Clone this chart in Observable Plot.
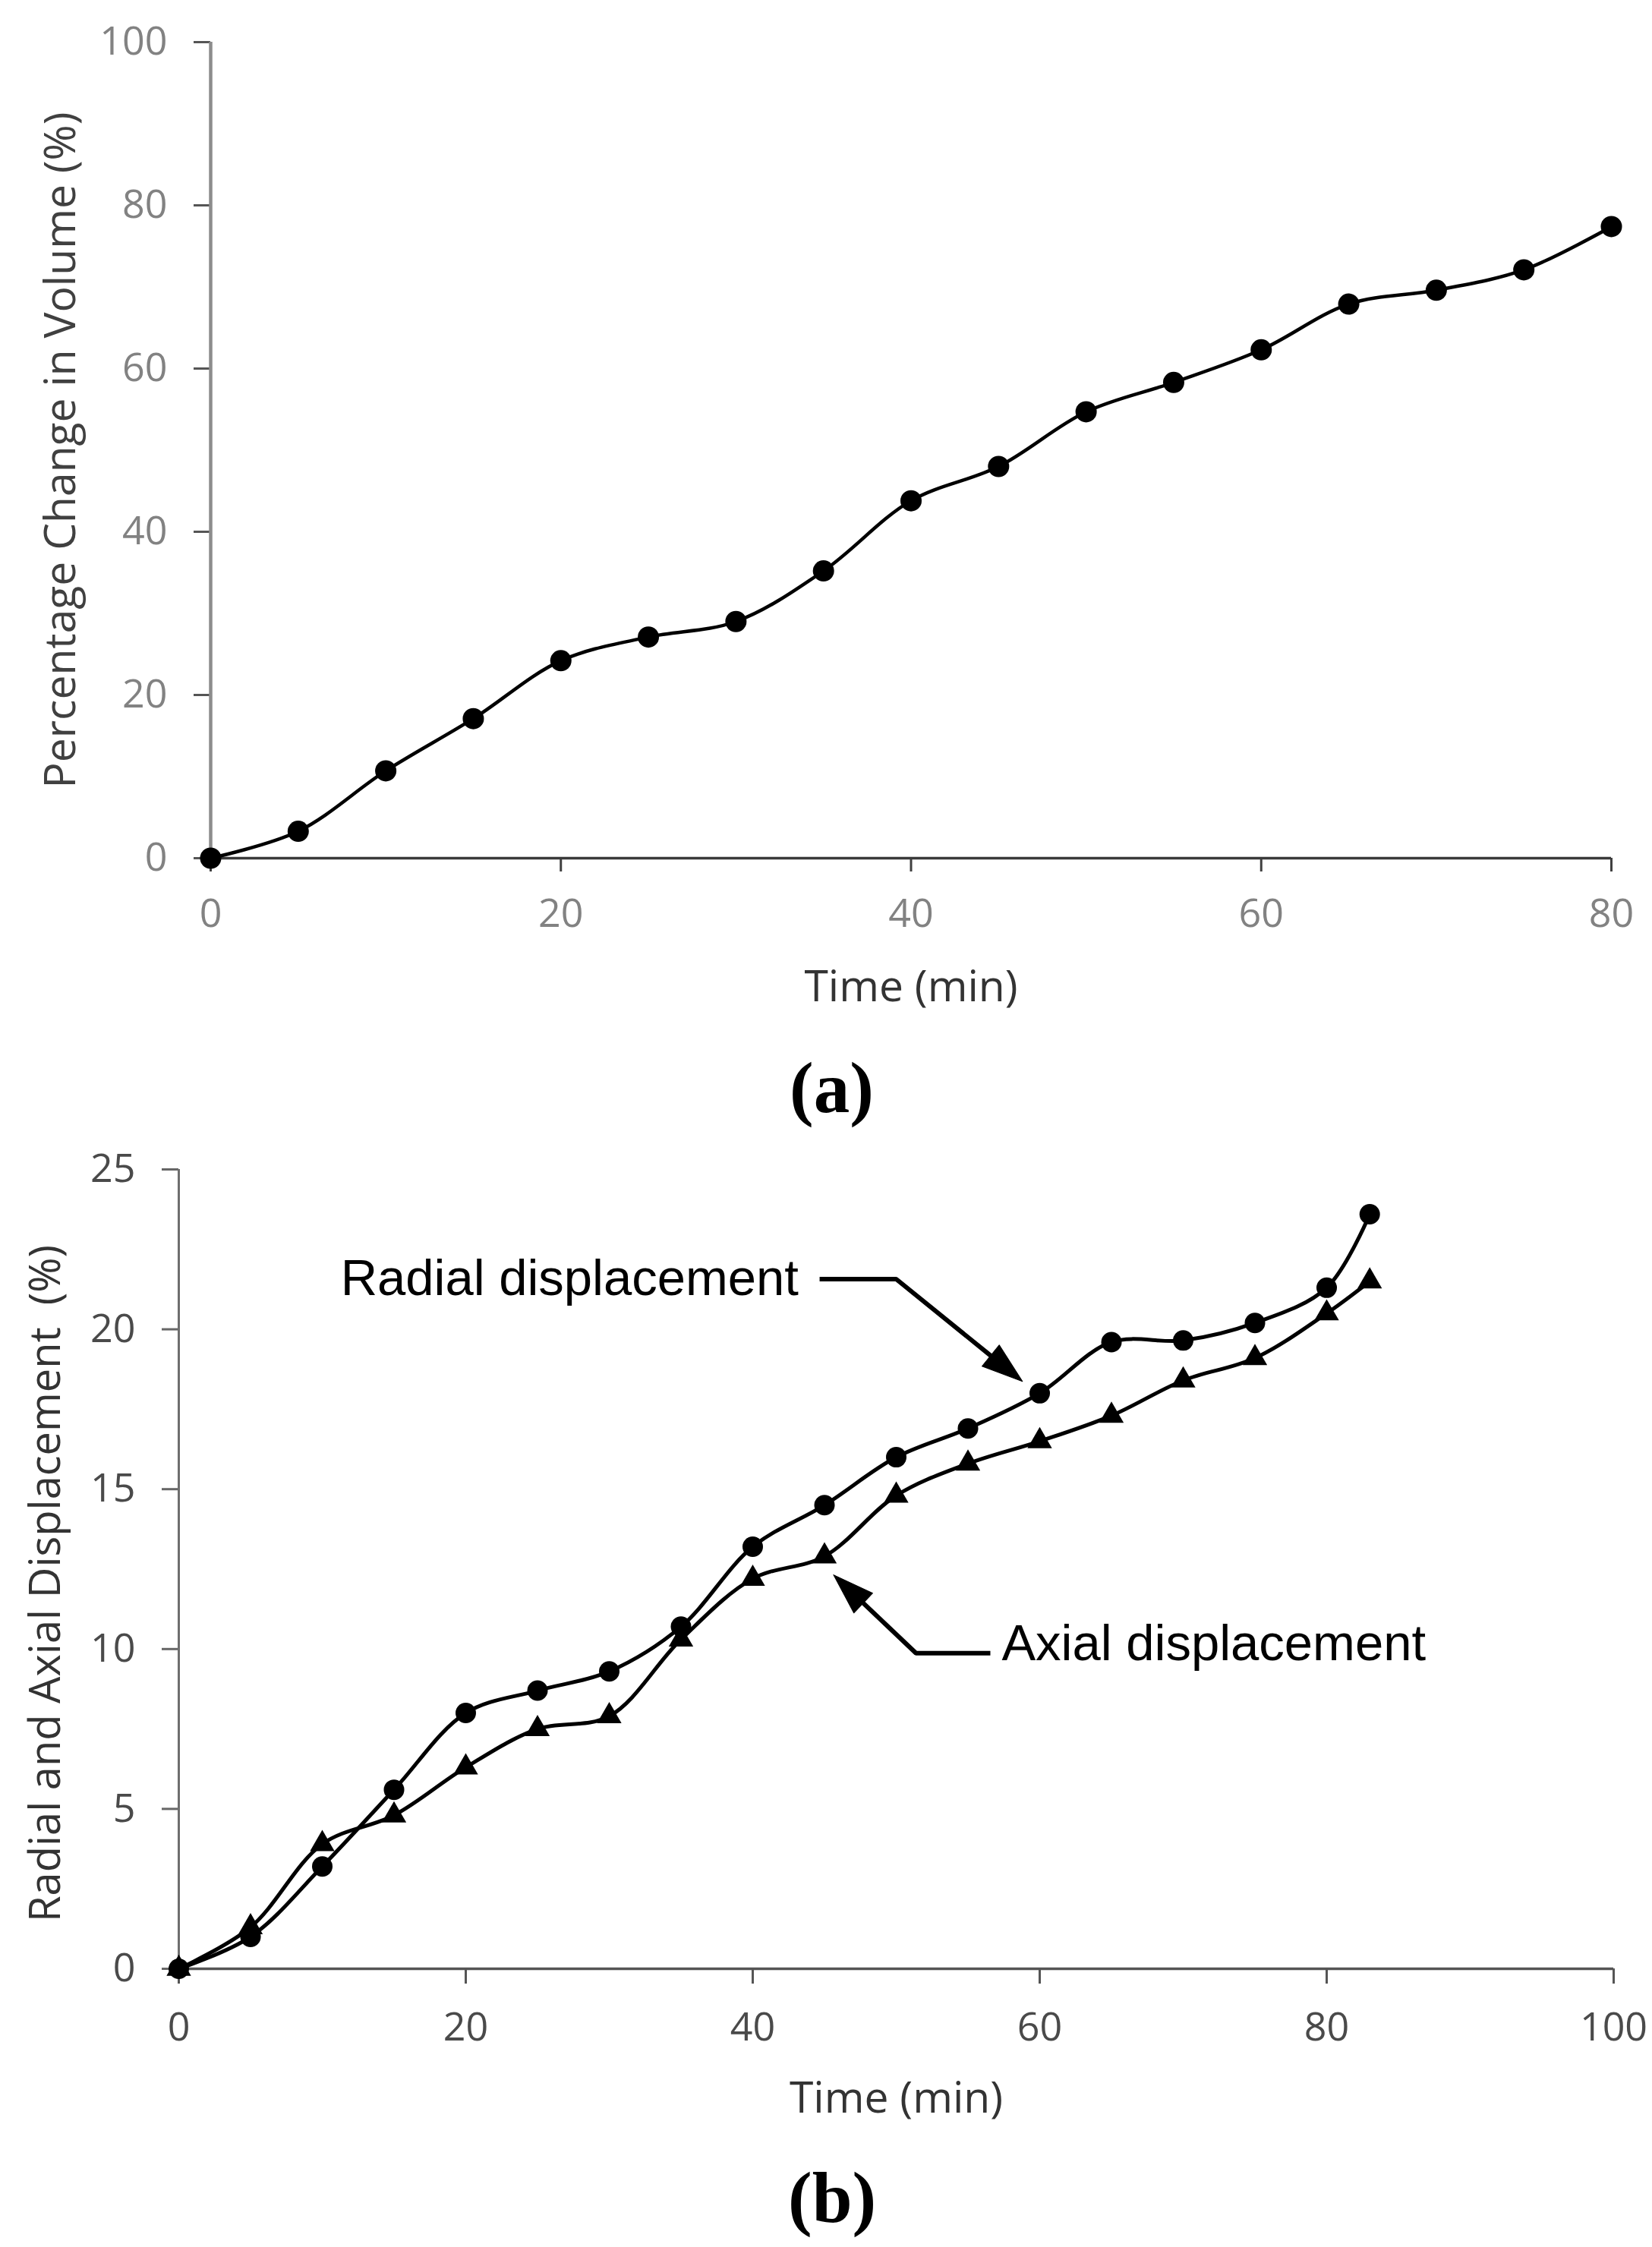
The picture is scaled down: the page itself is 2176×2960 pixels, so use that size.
<!DOCTYPE html>
<html>
<head>
<meta charset="utf-8">
<script src="https://cdn.jsdelivr.net/npm/d3@7"></script>
<script src="https://cdn.jsdelivr.net/npm/@observablehq/plot@0.6"></script>
<style>
  html, body { margin: 0; padding: 0; background: #fff; }
  #page { position: relative; width: 2176px; height: 2960px; overflow: hidden; background: #fff; }
  .panel { position: absolute; left: 0; }
  .cap { position: absolute; font-family: "Liberation Serif", "Times New Roman", serif; font-weight: bold;
         font-size: 95px; line-height: 1; color: #000; white-space: nowrap; }
</style>
</head>
<body>
<div id="page"></div>
<script>
// ---------- Panel (a): percentage change in volume ----------
const timeA = [0, 5, 10, 15, 20, 25, 30, 35, 40, 45, 50, 55, 60, 65, 70, 75, 80];
const volumeA = [0, 3.3, 10.7, 17.1, 24.2, 27.1, 29.0, 35.2, 43.8, 48.0, 54.7, 58.3, 62.3, 67.9, 69.6, 72.1, 77.4];
const xTicksA = [0, 20, 40, 60, 80];
const yTicksA = [0, 20, 40, 60, 80, 100];
const xTitleA = "Time (min)";
const yTitleA = "Percentage Change in Volume (%)";
const captionA = "(a)";

// ---------- Panel (b): radial and axial displacement ----------
const timeB = [0, 5, 10, 15, 20, 25, 30, 35, 40, 45, 50, 55, 60, 65, 70, 75, 80, 83];
const radialB = [0, 1.0, 3.2, 5.6, 8.0, 8.7, 9.3, 10.7, 13.2, 14.5, 16.0, 16.9, 18.0, 19.6, 19.65, 20.2, 21.3, 23.6];
const axialB = [0, 1.3, 3.9, 4.8, 6.3, 7.5, 7.9, 10.3, 12.2, 12.9, 14.8, 15.8, 16.5, 17.3, 18.4, 19.1, 20.5, 21.5];
const xTicksB = [0, 20, 40, 60, 80, 100];
const yTicksB = [0, 5, 10, 15, 20, 25];
const xTitleB = "Time (min)";
const yTitleB = "Radial and Axial Displacement\u00a0 (%)";
const captionB = "(b)";

// annotation labels (data coordinates: time, %)
const radialLabel = [{t: 43.2, v: 21.07, text: "Radial displacement"}];
const axialLabel = [{t: 57.35, v: 9.64, text: "Axial displacement"}];
// annotation arrow paths (data coordinates), last point is the arrow tip
const radialArrow = [{t: 44.66, v: 21.57}, {t: 50.0, v: 21.57}, {t: 58.8, v: 18.37}];
const axialArrow = [{t: 56.56, v: 9.87}, {t: 51.38, v: 9.87}, {t: 45.63, v: 12.32}];

// ---------- layout ----------
const W = 2176;
const H = 1340;
const mA = {top: 55, right: 54, bottom: 210, left: 277};
const mB = {top: 50, right: 51, bottom: 237, left: 235};
const fontSans = "'Open Sans', 'Noto Sans', sans-serif";
const fontArial = "'Liberation Sans', Arial, sans-serif";

const dataA = timeA.map((t, i) => ({t, v: volumeA[i]}));
const radialData = timeB.map((t, i) => ({t, v: radialB[i]}));
const axialData = timeB.map((t, i) => ({t, v: axialB[i]}));

const chartA = Plot.plot({
  width: W, height: H,
  marginTop: mA.top, marginRight: mA.right, marginBottom: mA.bottom, marginLeft: mA.left,
  style: {fontFamily: fontSans, background: "white", overflow: "visible"},
  x: {domain: [0, 80]},
  y: {domain: [0, 100]},
  marks: [
    Plot.axisY(yTicksA, {tickSize: 22, tickPadding: 35, fontSize: 52, stroke: "#555", strokeWidth: 3, fill: "#828282", label: null}),
    Plot.axisX(xTicksA, {tickSize: 18, tickPadding: 36, fontSize: 52, stroke: "#404040", strokeWidth: 3, fill: "#828282", label: null}),
    Plot.ruleX([0], {stroke: "#8c8c8c", strokeWidth: 4.5}),
    Plot.ruleY([0], {stroke: "#3a3a3a", strokeWidth: 3.5}),
    Plot.text([yTitleA], {text: d => d, frameAnchor: "left", dx: -179, rotate: -90, lineAnchor: "bottom",
      textAnchor: "middle", fontSize: 57, fill: "#404040"}),
    Plot.text([xTitleA], {text: d => d, frameAnchor: "bottom", dy: 188, lineAnchor: "bottom",
      textAnchor: "middle", fontSize: 57, fill: "#333"}),
    Plot.line(dataA, {x: "t", y: "v", curve: "catmull-rom", stroke: "black", strokeWidth: 4.5}),
    Plot.dot(dataA, {x: "t", y: "v", r: 14, fill: "black", stroke: "none"})
  ]
});

// helpers for the arrowheads in panel (b)
const kx = (W - mB.left - mB.right) / 100;
const ky = (H - mB.top - mB.bottom) / 25;
function bearing(p1, p2) {
  const dx = (p2.t - p1.t) * kx;
  const dy = -(p2.v - p1.v) * ky;
  return Math.atan2(dx, -dy) * 180 / Math.PI;
}
const headLen = 54, headW = 36;
const headShape = {
  draw(context, l) {
    context.moveTo(0, -l);
    context.lineTo(-headW / 2, 0);
    context.lineTo(headW / 2, 0);
    context.closePath();
  }
};
function shaft(path) {
  // stop the shaft a little before the tip so the head covers it cleanly
  const n = path.length;
  const a = path[n - 2], b = path[n - 1];
  const dx = (b.t - a.t) * kx, dy = (b.v - a.v) * ky;
  const len = Math.hypot(dx, dy);
  const f = (len - headLen * 0.6) / len;
  return [...path.slice(0, n - 1), {t: a.t + (b.t - a.t) * f, v: a.v + (b.v - a.v) * f}];
}
const arrows = [radialArrow, axialArrow];

const chartB = Plot.plot({
  width: W, height: H,
  marginTop: mB.top, marginRight: mB.right, marginBottom: mB.bottom, marginLeft: mB.left,
  style: {fontFamily: fontSans, background: "white", overflow: "visible"},
  x: {domain: [0, 100]},
  y: {domain: [0, 25]},
  marks: [
    Plot.axisY(yTicksB, {tickSize: 22, tickPadding: 35, fontSize: 52, stroke: "#666", strokeWidth: 3, fill: "#4a4a4a", label: null}),
    Plot.axisX(xTicksB, {tickSize: 20, tickPadding: 38, fontSize: 52, stroke: "#555", strokeWidth: 3, fill: "#4a4a4a", label: null}),
    Plot.ruleX([0], {stroke: "#6e6e6e", strokeWidth: 3}),
    Plot.ruleY([0], {stroke: "#555", strokeWidth: 3.5}),
    Plot.text([yTitleB], {text: d => d, frameAnchor: "left", dx: -157, dy: 19, rotate: -90, lineAnchor: "bottom",
      textAnchor: "middle", fontSize: 56, fill: "#333"}),
    Plot.text([xTitleB], {text: d => d, frameAnchor: "bottom", dy: 189, lineAnchor: "bottom",
      textAnchor: "middle", fontSize: 57, fill: "#333"}),
    Plot.line(radialData, {x: "t", y: "v", curve: "catmull-rom", stroke: "black", strokeWidth: 5}),
    Plot.line(axialData, {x: "t", y: "v", curve: "catmull-rom", stroke: "black", strokeWidth: 5}),
    Plot.dot(radialData, {x: "t", y: "v", r: 13.5, fill: "black", stroke: "none"}),
    Plot.dot(axialData, {x: "t", y: "v", r: 12, symbol: "triangle", fill: "black", stroke: "none"}),
    ...arrows.map(p => Plot.line(shaft(p), {x: "t", y: "v", stroke: "black", strokeWidth: 6, strokeLinejoin: "miter", strokeLinecap: "butt"})),
    ...arrows.map(p => Plot.vector([p[p.length - 1]], {x: "t", y: "v", length: headLen, rotate: bearing(p[p.length - 2], p[p.length - 1]),
      anchor: "end", shape: headShape, fill: "black", stroke: "black", strokeWidth: 1})),
    Plot.text(radialLabel, {x: "t", y: "v", text: "text", textAnchor: "end", lineAnchor: "bottom",
      fontFamily: fontArial, fontSize: 67, fill: "black"}),
    Plot.text(axialLabel, {x: "t", y: "v", text: "text", textAnchor: "start", lineAnchor: "bottom",
      fontFamily: fontArial, fontSize: 67, fill: "black"})
  ]
});

const page = document.getElementById("page");
chartA.classList.add("panel");
chartA.style.top = "0px";
page.appendChild(chartA);

chartB.classList.add("panel");
chartB.style.top = "1490px";
page.appendChild(chartB);

const capA = document.createElement("div");
capA.className = "cap";
capA.textContent = captionA;
capA.style.left = "1040px";
capA.style.top = "1386px";
page.appendChild(capA);

const capB = document.createElement("div");
capB.className = "cap";
capB.textContent = captionB;
capB.style.left = "1038px";
capB.style.top = "2848px";
page.appendChild(capB);
</script>
</body>
</html>
